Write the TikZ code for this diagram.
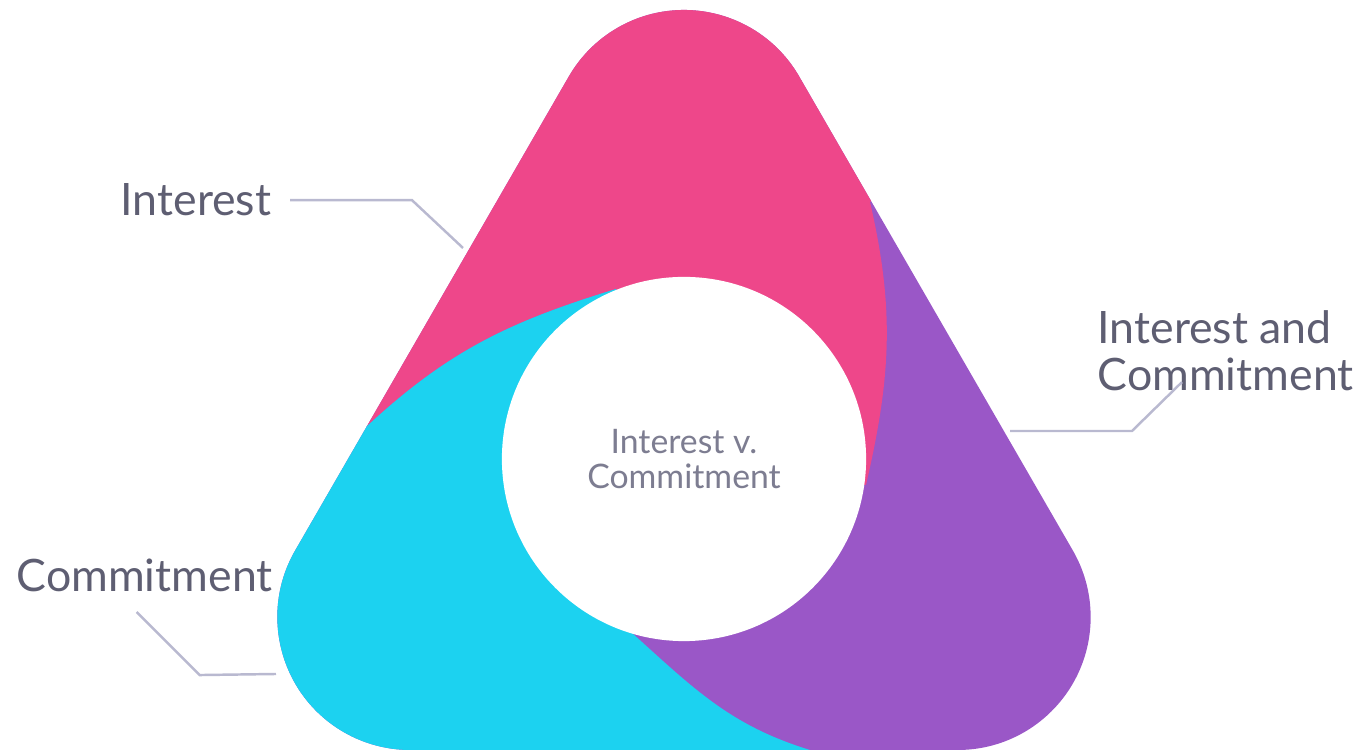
\documentclass[tikz,border=0pt]{standalone}
\usepackage{fontspec}
\setmainfont{Lato}
\usetikzlibrary{calc}

\definecolor{petal}{RGB}{238,71,138}
\definecolor{sky}{RGB}{28,210,240}
\definecolor{grape}{RGB}{154,87,199}
\definecolor{inkgray}{RGB}{94,94,114}
\definecolor{softgray}{RGB}{125,125,145}
\definecolor{leadgray}{RGB}{185,185,208}

% rounded triangle, corner circles centred on (ct), (cl), (cr)
\newcommand{\roundtri}{($(ct)+(30:133)$) arc[start angle=30, end angle=150, radius=133]
  -- ($(cl)+(150:133)$) arc[start angle=150, end angle=270, radius=133]
  -- ($(cr)+(270:133)$) arc[start angle=270, end angle=390, radius=133] -- cycle}

\begin{document}
\begin{tikzpicture}[x=0.01cm, y=0.01cm,
  sidetext/.style={font=\fontsize{12.7}{13.5}\selectfont, text=inkgray, inner sep=0pt},
  leader/.style={draw=leadgray, line width=0.7pt},
  hub/.style={circle, fill=white, minimum size=3.64cm, inner sep=0pt, align=center,
    text=softgray, font=\fontsize{9.6}{10.1}\selectfont}]

\useasboundingbox (0,0) rectangle (1363,752);

\coordinate (o) at (684,293);
\coordinate (ct) at ($(o)+(90:316)$);
\coordinate (cl) at ($(o)+(210:316)$);
\coordinate (cr) at ($(o)+(330:316)$);

% ends of the three dividing curves
\coordinate (pe) at (866,267);
\coordinate (po) at (870,550);
\coordinate (qe) at (616,463);
\coordinate (qo) at (365,324);
\coordinate (be) at (632,119);
\coordinate (bo) at (810,2);

\fill[grape] \roundtri;
\begin{scope}
\clip \roundtri;
\fill[petal] (o) -- (pe) to[out=77, in=-77] (po) -- (1000,650) -- (684,900)
  -- (300,450) -- (300,322) -- (qo) to[out=43, in=197] (qe) -- cycle;
\fill[sky] (o) -- (qe) to[out=197, in=43] (qo) -- (300,322) -- (100,-50)
  -- (830,-50) -- (bo) to[out=163, in=-42] (be) -- cycle;
\end{scope}

\node[hub] (hub) at (o) {Interest v.\\Commitment};

\node[sidetext, anchor=base east] (interest) at (272,536) {Interest};
\node[sidetext, anchor=base west] (commit) at (16,160) {Commitment};
\node[sidetext, anchor=west, align=left] (both) at (1097,401) {Interest and\\Commitment};

\coordinate (itip) at (463,504);
\coordinate (ctip) at (276,78);
\coordinate (btip) at (1010,321);
\coordinate (bbend) at (1132,321);

\draw[leader] ($(interest.east)+(18,0)$) -- ++(122,0) -- (itip);
\draw[leader] ($(commit.south)+(-8,-19)$) -- ++(63,-63) -- (ctip);
\draw[leader] (btip) -- (bbend) -- ($(both.south west)+(85,10)$);

\end{tikzpicture}
\end{document}
